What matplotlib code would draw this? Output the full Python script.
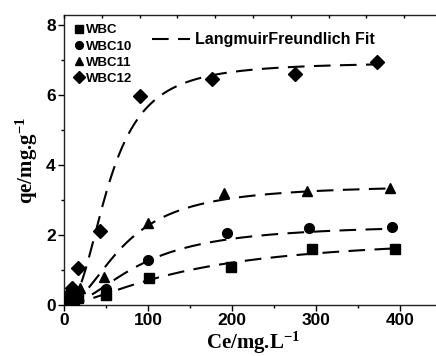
import numpy as np
import matplotlib
matplotlib.use("Agg")
import matplotlib.pyplot as plt
from matplotlib.lines import Line2D

# measured isotherm points (Ce in mg/L, qe in mg/g)
series_names = ["WBC", "WBC10", "WBC11", "WBC12"]
markers = ["s", "o", "^", "D"]

ce_wbc = [5, 12, 17, 50, 101, 199, 295, 394]
qe_wbc = [0.08, 0.12, 0.20, 0.29, 0.77, 1.09, 1.60, 1.60]

ce_wbc10 = [5, 12, 17, 50, 100, 194, 292, 391]
qe_wbc10 = [0.12, 0.20, 0.28, 0.46, 1.29, 2.06, 2.21, 2.23]

ce_wbc11 = [6, 13, 19, 48, 100, 190, 289, 388]
qe_wbc11 = [0.20, 0.35, 0.50, 0.80, 2.34, 3.20, 3.27, 3.35]

ce_wbc12 = [5, 9, 17, 43, 91, 176, 275, 373]
qe_wbc12 = [0.30, 0.48, 1.07, 2.12, 5.97, 6.48, 6.62, 6.95]

# Langmuir-Freundlich fit parameters: qm, K, n
qm_fit = [2.00, 2.32, 3.45, 6.95]
k_fit = [0.00667, 0.01097, 0.0139, 0.0187]
n_fit = [1.5, 1.9, 2.0, 2.4]

ce_all = [ce_wbc, ce_wbc10, ce_wbc11, ce_wbc12]
qe_all = [qe_wbc, qe_wbc10, qe_wbc11, qe_wbc12]


def langmuir_freundlich(c, qm, k, n):
    t = (k * c) ** n
    return qm * t / (1 + t)


plt.rcParams["mathtext.fontset"] = "custom"
plt.rcParams["mathtext.rm"] = "Liberation Serif:bold"
plt.rcParams["mathtext.it"] = "Liberation Serif:bold"
plt.rcParams["mathtext.bf"] = "Liberation Serif:bold"
plt.rcParams["mathtext.default"] = "rm"

fig = plt.figure(figsize=(4.36, 3.56), dpi=100)
ax = fig.add_axes([0.1468, 0.1433, 0.867, 0.8146])

bold_sans = {"family": "Liberation Sans", "weight": "bold"}
bold_serif = {"family": "Liberation Serif", "weight": "bold"}
fit_dashes = (8, 4.5)

handles = []
for name, m, ce, qe, qm, k, n in zip(series_names, markers, ce_all, qe_all,
                                     qm_fit, k_fit, n_fit):
    c = np.linspace(ce[0], ce[-1], 300)
    ax.plot(c, langmuir_freundlich(c, qm, k, n), color="black", lw=1.5,
            dashes=fit_dashes, zorder=2)
    ms = 7.5 if m == "D" else 7
    h, = ax.plot(ce, qe, linestyle="none", marker=m, color="black",
                 markersize=ms, zorder=3, label=name)
    handles.append(h)

ax.set_xlim(0, 450)
ax.set_ylim(0, 8.3)
ax.set_xticks([0, 100, 200, 300, 400])
ax.set_xticks([50, 150, 250, 350], minor=True)
ax.set_yticks([0, 2, 4, 6, 8])
ax.set_yticks([1, 3, 5, 7], minor=True)
ax.tick_params(which="major", direction="out", length=4, width=1,
               top=False, right=False, pad=2)
ax.tick_params(which="minor", direction="out", length=2.5, width=1,
               top=False, right=False)
for lab in ax.get_xticklabels() + ax.get_yticklabels():
    lab.set_fontproperties(bold_sans)
    lab.set_fontsize(12.5)
for sp in ax.spines.values():
    sp.set_linewidth(1.0)
    sp.set_color("#222222")

# top axis has its own finer tick spacing
top = ax.twiny()
top.set_xlim(0, 450)
top.set_xticks(np.arange(0, 451, 45))
top.set_xticklabels([])
top.tick_params(direction="in", length=2.5, width=1)
for sp in top.spines.values():
    sp.set_visible(False)

ax.set_xlabel("Ce/mg.L$^{-1}$", fontdict=bold_serif, fontsize=15, labelpad=1)
ax.set_ylabel("qe/mg.g$^{-1}$", fontdict=bold_serif, fontsize=15, labelpad=4)

leg1 = ax.legend(handles=handles, loc="upper left", frameon=False,
                 prop={"family": "Liberation Sans", "weight": "bold", "size": 9.5},
                 handlelength=0.8, handletextpad=0.2, labelspacing=0.3,
                 borderaxespad=0.3, markerscale=0.8)
ax.add_artist(leg1)

fit_handle = Line2D([], [], color="black", lw=1.5, dashes=fit_dashes)
ax.legend(handles=[fit_handle], labels=["LangmuirFreundlich Fit"],
          loc="upper left", bbox_to_anchor=(0.195, 0.99), frameon=False,
          prop={"family": "Liberation Sans", "weight": "bold", "size": 11.5},
          handlelength=2.4, handletextpad=0.3)

fig.savefig("out.png", dpi=100)
